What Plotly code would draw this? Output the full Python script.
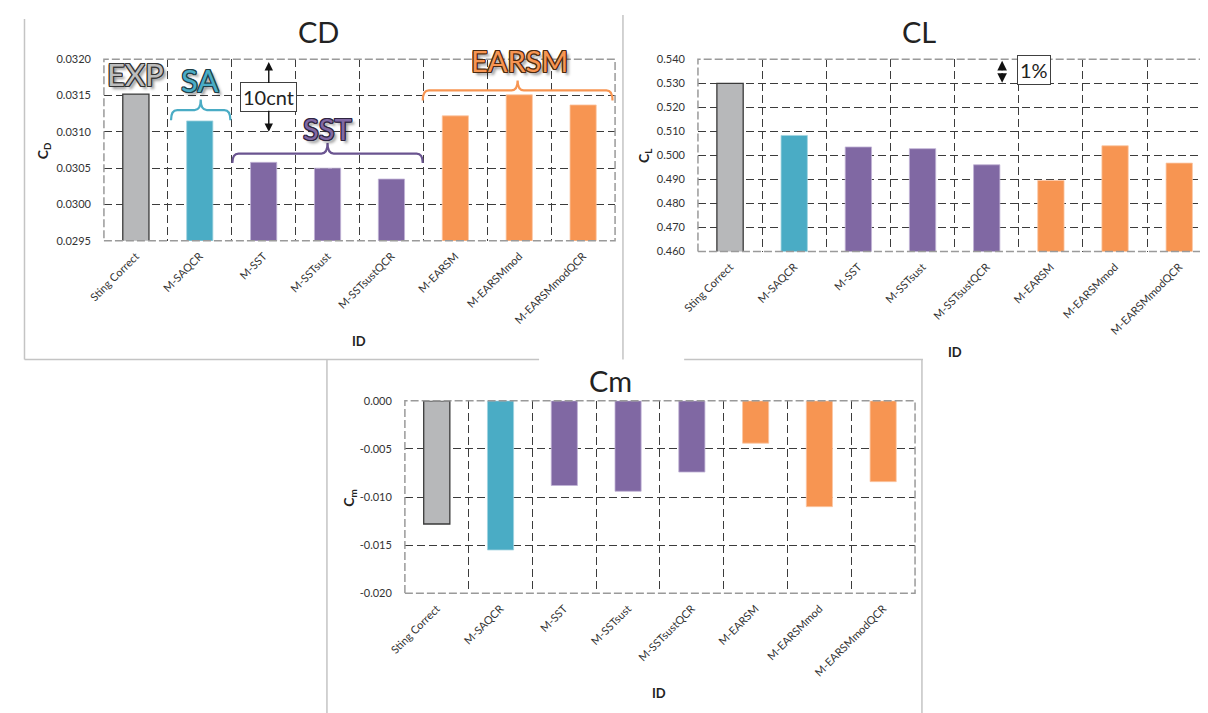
import plotly.graph_objects as go

# ---------------- data ----------------
categories = ["Sting Correct", "M-SAQCR", "M-SST", "M-SSTsust", "M-SSTsustQCR",
              "M-EARSM", "M-EARSMmod", "M-EARSMmodQCR"]
cd_values = [0.03152, 0.03115, 0.03058, 0.03050, 0.03035, 0.03122, 0.03151, 0.03137]
cl_values = [0.5299, 0.5083, 0.5035, 0.5028, 0.4961, 0.4896, 0.5040, 0.4968]
cm_values = [-0.0128, -0.0155, -0.0088, -0.0094, -0.0074, -0.0044, -0.0110, -0.0084]

cd_ticks = [0.0295, 0.0300, 0.0305, 0.0310, 0.0315, 0.0320]
cd_ticktext = ["0.0295", "0.0300", "0.0305", "0.0310", "0.0315", "0.0320"]
cl_ticks = [0.460, 0.470, 0.480, 0.490, 0.500, 0.510, 0.520, 0.530, 0.540]
cl_ticktext = ["0.460", "0.470", "0.480", "0.490", "0.500", "0.510", "0.520", "0.530", "0.540"]
cm_ticks = [-0.020, -0.015, -0.010, -0.005, 0.000]
cm_ticktext = ["-0.020", "-0.015", "-0.010", "-0.005", "0.000"]

GRAY, TEAL, PURPLE, ORANGE = "#B7B8BA", "#4AACC5", "#8068A3", "#F79552"
bar_colors = [GRAY, TEAL, PURPLE, PURPLE, PURPLE, ORANGE, ORANGE, ORANGE]
bar_line_colors = ["#3A3A3A", "#9FD3E0", "#C0B2D6", "#C0B2D6", "#C0B2D6",
                   "#FBC6A3", "#FBC6A3", "#FBC6A3"]
bar_line_widths = [1.3, 0.8, 0.8, 0.8, 0.8, 0.8, 0.8, 0.8]

W, H = 1208, 713
OFF = 8  # page offset of the figure inside the browser window
FONT = "Lato"
TXT = "#222222"


def px(x):
    return (x - OFF) / W


def py(y):
    return 1 - (y - OFF) / H


fig = go.Figure()

panels = [
    # name, values, ticks, ticktext, x-domain px, y-domain px (top,bottom), xrange
    ("CD", cd_values, cd_ticks, cd_ticktext, (89, 607), (53, 238), (-0.5, 7.5)),
    ("CL", cl_values, cl_ticks, cl_ticktext, (691, 1208), (53, 249), (-0.5, 7.45)),
    ("Cm", cm_values, cm_ticks, cm_ticktext, (394, 911), (401, 597), (-0.5, 7.5)),
]

for k, (name, vals, tv, tt, (xl, xr), (yt, yb), xrng) in enumerate(panels):
    sfx = "" if k == 0 else str(k + 1)
    fig.add_trace(go.Bar(
        x=categories, y=vals, width=0.41,
        marker=dict(color=bar_colors,
                    line=dict(color=bar_line_colors, width=bar_line_widths)),
        xaxis="x" + sfx, yaxis="y" + sfx, showlegend=False, hoverinfo="x+y",
    ))
    common_grid = dict(showgrid=True, gridcolor="#3C3C3C", gridwidth=1,
                       griddash="8px,4px", zeroline=False, showline=False,
                       fixedrange=True)
    fig.layout["xaxis" + sfx] = dict(
        type="category", domain=[px(xl), px(xr)], range=list(xrng),
        anchor="y" + sfx, tickson="boundaries", ticks="",
        tickangle=-45, tickfont=dict(family=FONT, size=11, color="#333333"),
        ticklabelstandoff=6, **common_grid)
    fig.layout["yaxis" + sfx] = dict(
        domain=[py(yb), py(yt)], range=[tv[0], tv[-1]], anchor="x" + sfx,
        tickvals=tv, ticktext=tt, ticks="",
        tickfont=dict(family=FONT, size=11, color="#333333"),
        ticklabelstandoff=12, **common_grid)
    # dashed gray plot frame
    fig.add_shape(type="rect", xref=f"x{sfx} domain", yref=f"y{sfx} domain",
                  x0=0, x1=1, y0=0, y1=1,
                  line=dict(color="#9A9A9A", width=1.5, dash="8px,3px"),
                  layer="above")


def paper_text(text, x, y, size, bold=False, angle=0):
    fig.add_annotation(text=f"<b>{text}</b>" if bold else text,
                       x=px(x), y=py(y), xref="paper", yref="paper",
                       xanchor="center", yanchor="middle", showarrow=False,
                       textangle=angle, font=dict(family=FONT, size=size, color=TXT))


# ---------------- titles and axis titles ----------------
for t, x, y in [("CD", 306, 25), ("CL", 915, 25), ("Cm", 602, 380)]:
    paper_text(t, x, y, 29)

for t, x, y in [("C<sub>D</sub>", 28, 146), ("C<sub>L</sub>", 637, 152),
                ("C<sub>m</sub>", 337, 500)]:
    paper_text(t, x, y, 14, bold=True, angle=-90)

for x, y in [(348, 340), (951, 351), (652, 699)]:
    paper_text("ID", x, y, 13, bold=True)

# ---------------- CD group labels & braces ----------------
cd_lo, cd_hi = cd_ticks[0], cd_ticks[-1]


def fx(i, rng=(-0.5, 7.5)):
    return (i - rng[0]) / (rng[1] - rng[0])


def fy(v, lo, hi):
    return (v - lo) / (hi - lo)


def outline(c):
    return (f"-1px -1px 0 {c}, 1px -1px 0 {c}, -1px 1px 0 {c}, 1px 1px 0 {c}, "
            f"0 -1px 0 {c}, 0 1px 0 {c}, -1px 0 0 {c}, 1px 0 0 {c}, "
            "3px 3px 3px rgba(0,0,0,0.45)")


group_labels = [
    ("EXP", 0.0, 0.03180, "#BDBDBD", "#333333", 31),
    ("SA", 1.0, 0.03172, TEAL, "#1F3F48", 31),
    ("SST", 3.0, 0.03105, PURPLE, "#2E2440", 29),
    ("EARSM", 6.0, 0.03198, ORANGE, "#4A2A10", 29),
]
for txt, xi, yv, col, oc, sz in group_labels:
    fig.add_annotation(text=txt, x=fx(xi), y=fy(yv, cd_lo, cd_hi),
                       xref="x domain", yref="y domain", showarrow=False,
                       xanchor="center", yanchor="middle",
                       font=dict(family=FONT, size=sz, color=col, shadow=outline(oc)))

# braces: (start index, end index, end y, bar y, tip y, colour)
braces = [
    (0.55, 1.48, 0.03116, 0.03130, 0.031445, TEAL),
    (1.51, 4.49, 0.03057, 0.03070, 0.030845, "#6A5490"),
    (4.49, 7.46, 0.03143, 0.03157, 0.031705, ORANGE),
]
for a, b, ye, yh, ytip, col in braces:
    X0, X1, XM = fx(a), fx(b), fx((a + b) / 2)
    YE, YH, YT = fy(ye, cd_lo, cd_hi), fy(yh, cd_lo, cd_hi), fy(ytip, cd_lo, cd_hi)
    r = 0.012
    path = (f"M {X0},{YE} Q {X0},{YH} {X0 + r},{YH} L {XM - r},{YH} "
            f"Q {XM},{YH} {XM},{YT} Q {XM},{YH} {XM + r},{YH} "
            f"L {X1 - r},{YH} Q {X1},{YH} {X1},{YE}")
    fig.add_shape(type="path", path=path, xref="x domain", yref="y domain",
                  line=dict(color=col, width=2.2), layer="above")

# 10cnt marker
fig.add_annotation(text="10cnt", x=fx(2.08), y=fy(0.031475, cd_lo, cd_hi),
                   xref="x domain", yref="y domain", showarrow=False,
                   xanchor="center", yanchor="middle",
                   bgcolor="white", bordercolor="#404040", borderwidth=1, borderpad=2,
                   font=dict(family=FONT, size=20, color=TXT))
for tip, tail in [(0.03196, 0.03165), (0.03100, 0.03131)]:
    fig.add_annotation(text="", x=fx(2.08), y=fy(tip, cd_lo, cd_hi),
                       ax=fx(2.08), ay=fy(tail, cd_lo, cd_hi),
                       xref="x domain", yref="y domain",
                       axref="x domain", ayref="y domain",
                       showarrow=True, arrowhead=2, arrowsize=1.2, arrowwidth=1.4,
                       arrowcolor="#111111", standoff=0, startstandoff=0)

# 1% marker in CL
cl_lo, cl_hi = cl_ticks[0], cl_ticks[-1]
cl_rng = (-0.5, 7.45)
fig.add_annotation(text="1%", x=fx(4.73, cl_rng), y=fy(0.5353, cl_lo, cl_hi),
                   xref="x2 domain", yref="y2 domain", showarrow=False,
                   xanchor="center", yanchor="middle",
                   bgcolor="white", bordercolor="#404040", borderwidth=1, borderpad=2,
                   font=dict(family=FONT, size=20, color=TXT))
for tip in (0.5393, 0.5302):
    fig.add_annotation(text="", x=fx(4.24, cl_rng), y=fy(tip, cl_lo, cl_hi),
                       ax=fx(4.24, cl_rng), ay=fy(0.5348, cl_lo, cl_hi),
                       xref="x2 domain", yref="y2 domain",
                       axref="x2 domain", ayref="y2 domain",
                       showarrow=True, arrowhead=2, arrowsize=1.2, arrowwidth=1.6,
                       arrowcolor="#111111", standoff=0, startstandoff=0)

# ---------------- panel frames (light gray screenshot borders) ----------------
frame_lines = [
    (8.5, 12, 8.5, 359), (8.5, 359, 530, 359),      # CD left, bottom
    (615, 8, 615, 359),                             # CD/CL separator
    (677, 359, 919, 359),                           # CL bottom
    (315, 359, 315, 721), (918, 359, 918, 721),     # Cm sides
]
for x0, y0, x1, y1 in frame_lines:
    fig.add_shape(type="line", xref="paper", yref="paper",
                  x0=px(x0), y0=py(y0), x1=px(x1), y1=py(y1),
                  line=dict(color="#C4C4C4", width=1.5))

fig.update_layout(
    width=W, height=H, margin=dict(l=0, r=0, t=0, b=0),
    paper_bgcolor="white", plot_bgcolor="white",
    showlegend=False, bargap=0.59,
    font=dict(family=FONT, color=TXT),
)

fig.write_html("out.html")
